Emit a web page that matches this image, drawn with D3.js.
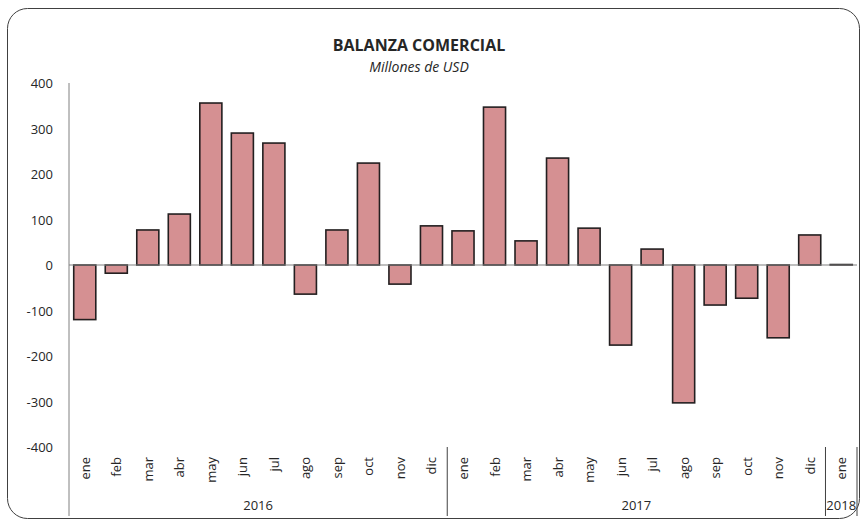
<!DOCTYPE html>
<html>
<head>
<meta charset="utf-8">
<script src="https://cdn.jsdelivr.net/npm/d3@7"></script>
<style>
  body { margin: 0; background: #fff; }
  text { font-family: "Open Sans", "DejaVu Sans", sans-serif; fill: #262626; }
</style>
</head>
<body>
<div id="graph"></div>
<script>
// months, years and values (millones de USD)
var months = ['ene','feb','mar','abr','may','jun','jul','ago','sep','oct','nov','dic',
              'ene','feb','mar','abr','may','jun','jul','ago','sep','oct','nov','dic',
              'ene'];
var years = ['2016', '2017', '2018'];
var monthsPerYear = [12, 12, 1];
var values = [-120, -18, 77, 112, 356, 290, 268, -64, 77, 224, -42, 86,
              75, 347, 53, 235, 81, -176, 35, -303, -88, -73, -160, 66,
              1];
var yTicks = [-400, -300, -200, -100, 0, 100, 200, 300, 400];

var W = 863, H = 523;
var plotLeft = 69, plotRight = 857, plotTop = 83, plotBottom = 447;

var svg = d3.select('#graph').append('svg')
  .attr('width', W).attr('height', H);

// chart frame
svg.append('rect')
  .attr('x', 7.5).attr('y', 8.5).attr('width', 852).attr('height', 510)
  .attr('rx', 20).attr('ry', 20)
  .attr('fill', 'none').attr('stroke', '#404040').attr('stroke-width', 1);

var data = values.map(function(v, i){ return {i: i, m: months[i], v: v}; });

var x = d3.scaleBand()
  .domain(d3.range(values.length))
  .range([plotLeft, plotRight])
  .paddingInner(0.3).paddingOuter(0.15);

var y = d3.scaleLinear().domain([-400, 400]).range([plotBottom, plotTop]);

// y labels
svg.append('g').selectAll('text')
  .data(yTicks).enter().append('text')
  .attr('x', 53).attr('y', function(d){ return y(d) + 5; })
  .attr('text-anchor', 'end').style('font-size', '13px')
  .text(function(d){ return d; });

// y axis line
svg.append('line')
  .attr('x1', plotLeft).attr('x2', plotLeft).attr('y1', plotTop).attr('y2', 516)
  .attr('stroke', '#808080').attr('stroke-width', 1);

// bars
svg.append('g').selectAll('rect')
  .data(data).enter().append('rect')
  .attr('x', function(d){ return x(d.i); })
  .attr('width', x.bandwidth())
  .attr('y', function(d){ return y(Math.max(0, d.v)); })
  .attr('height', function(d){ return Math.abs(y(d.v) - y(0)); })
  .attr('fill', '#d59092')
  .attr('stroke', '#231f20').attr('stroke-width', 1.6);

// zero line
svg.append('line')
  .attr('x1', plotLeft).attr('x2', plotRight).attr('y1', y(0)).attr('y2', y(0))
  .attr('stroke', '#808080').attr('stroke-width', 1.2);

// month labels
svg.append('g').selectAll('text')
  .data(data).enter().append('text')
  .attr('transform', function(d){
    return 'translate(' + (x(d.i) + x.bandwidth() / 2 + 5) + ',457) rotate(-90)';
  })
  .attr('text-anchor', 'end').style('font-size', '13px')
  .text(function(d){ return d.m; });

// year groups
var step = (plotRight - plotLeft) / values.length;
var start = 0;
years.forEach(function(yr, k){
  var n = monthsPerYear[k];
  var x0 = plotLeft + start * step, x1 = plotLeft + (start + n) * step;
  svg.append('text')
    .attr('x', (x0 + x1) / 2).attr('y', 510)
    .attr('text-anchor', 'middle').style('font-size', '13px')
    .text(yr);
  svg.append('line')
    .attr('x1', x1).attr('x2', x1).attr('y1', plotBottom).attr('y2', 516)
    .attr('stroke', '#404040').attr('stroke-width', 1);
  start += n;
});

// titles
svg.append('text')
  .attr('x', 419).attr('y', 51).attr('text-anchor', 'middle')
  .style('font-size', '16px').style('font-weight', 'bold')
  .text('BALANZA COMERCIAL');
svg.append('text')
  .attr('x', 419).attr('y', 72).attr('text-anchor', 'middle')
  .style('font-size', '14px').style('font-style', 'italic')
  .text('Millones de USD');
</script>
</body>
</html>
